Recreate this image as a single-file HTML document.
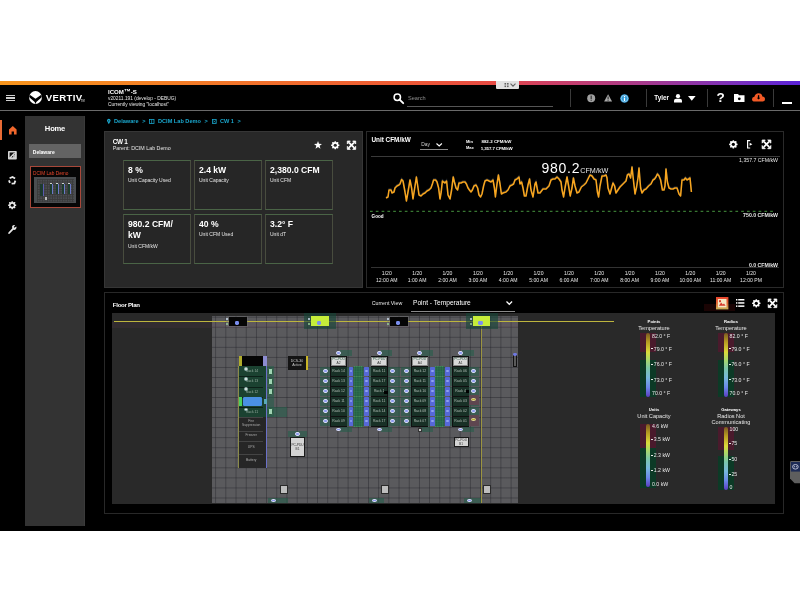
<!DOCTYPE html>
<html><head><meta charset="utf-8"><title>ICOM-S</title>
<style>
*{box-sizing:border-box}
html,body{margin:0;padding:0}
body{width:800px;height:600px;background:#fff;position:relative;overflow:hidden;font-family:"Liberation Sans",Arial,sans-serif;}
.a{position:absolute}
.t{position:absolute;line-height:1;white-space:nowrap}
svg{position:absolute;overflow:visible}
</style></head><body>
<div class="a" style="left:0px;top:81px;width:800px;height:450px;background:#000"></div><div class="a" style="left:0px;top:81px;width:800px;height:4px;background:linear-gradient(90deg,#f7951d 0%,#f37a28 25%,#ee5a34 50%,#e64a44 62%,#cf4064 68%,#a83a8a 80%,#7a30bc 92%,#5a22d8 100%)"></div><div class="a" style="left:496px;top:80.6px;width:23px;height:8.3px;background:#e2e2e2;border-radius:0 0 1px 1px"></div><svg style="left:496px;top:80.6px" width="23" height="8.3" viewBox="0 0 23 8.3"><g fill="#666"><rect x="8.5" y="2" width="1.6" height="1.6"/><rect x="11" y="2" width="1.6" height="1.6"/><rect x="8.5" y="4.5" width="1.6" height="1.6"/><rect x="11" y="4.5" width="1.6" height="1.6"/></g><path d="M14.5 2.6 L17 5.2 L19.5 2.6" fill="none" stroke="#666" stroke-width="1.1"/></svg><div class="a" style="left:6px;top:95px;width:9px;height:1.3px;background:#d0d0d0"></div><div class="a" style="left:6px;top:97.4px;width:9px;height:1.3px;background:#d0d0d0"></div><div class="a" style="left:6px;top:99.8px;width:9px;height:1.3px;background:#d0d0d0"></div><svg style="left:29.1px;top:91.1px" width="13" height="13" viewBox="0 0 13 13"><defs><clipPath id="lc"><circle cx="6.5" cy="6.5" r="6.4"/></clipPath></defs><circle cx="6.5" cy="6.5" r="6.4" fill="#fff"/><path d="M-0.5 3.0 L6.5 7.7 L13.5 3.0 L13.5 5.6 L7.3 10.9 L6.5 13.2 L5.7 10.9 L-0.5 5.6 Z" fill="#000" clip-path="url(#lc)"/></svg><div class="t" style="left:45.8px;top:93px;font-size:9.6px;color:#fff;font-weight:bold;letter-spacing:0.35px">VERTIV</div><div class="t" style="left:80.8px;top:101px;font-size:2.6px;color:#bbb;font-weight:bold;">TM</div><div class="t" style="left:108px;top:89px;font-size:6.1px;color:#fff;font-weight:bold;">ICOM<span style="font-size:7px;line-height:0;position:relative;top:-0.3px;letter-spacing:-0.3px">™</span>-S</div><div class="t" style="left:108px;top:97px;font-size:4.85px;color:#e8e8e8;">v20211.191 (develop - DEBUG)</div><div class="t" style="left:108px;top:103px;font-size:4.85px;color:#e8e8e8;">Currently viewing "localhost"</div><svg style="left:392.5px;top:92.6px" width="11" height="11" viewBox="0 0 11 11"><circle cx="4.3" cy="4.3" r="3.2" fill="none" stroke="#fff" stroke-width="1.5"/><path d="M6.6 6.6 L10.2 10.2" stroke="#fff" stroke-width="1.9" stroke-linecap="round"/></svg><div class="t" style="left:408px;top:96px;font-size:5.6px;color:#8c8c8c;">Search</div><div class="a" style="left:407px;top:105.9px;width:145.5px;height:1.4px;background:#555"></div><div class="a" style="left:570.3px;top:89px;width:0.9px;height:17.6px;background:#3a3a3a"></div><div class="a" style="left:645.5px;top:89px;width:0.9px;height:17.6px;background:#3a3a3a"></div><div class="a" style="left:706.8px;top:89px;width:0.9px;height:17.6px;background:#3a3a3a"></div><div class="a" style="left:773.2px;top:89px;width:0.9px;height:17.6px;background:#3a3a3a"></div><svg style="left:586.8px;top:94px" width="8.4" height="8.4" viewBox="0 0 8.4 8.4"><circle cx="4.2" cy="4.2" r="4" fill="#a0a0a0"/><rect x="3.6" y="1.6" width="1.2" height="3.4" fill="#333"/><rect x="3.6" y="5.7" width="1.2" height="1.1" fill="#333"/></svg><svg style="left:603.6px;top:94px" width="8.2" height="7.6" viewBox="0 0 8.2 7.6"><path d="M4.1 0.2 L8.1 7.4 L0.1 7.4 Z" fill="#a8a8a8"/><rect x="3.6" y="2.5" width="1" height="2.7" fill="#222"/><rect x="3.6" y="5.8" width="1" height="0.9" fill="#222"/></svg><svg style="left:620px;top:93.8px" width="9" height="9" viewBox="0 0 9 9"><circle cx="4.5" cy="4.5" r="4.3" fill="#2e9ad8"/><circle cx="4.5" cy="4.5" r="3.3" fill="none" stroke="#bfe3f7" stroke-width="0.6"/><rect x="3.9" y="3.7" width="1.2" height="3.3" fill="#fff"/><rect x="3.9" y="2" width="1.2" height="1.1" fill="#fff"/></svg><div class="t" style="left:654.3px;top:95px;font-size:6.3px;color:#fff;font-weight:bold;">Tyler</div><svg style="left:673.5px;top:93.6px" width="8" height="8.4" viewBox="0 0 8 8.4"><circle cx="4" cy="2.2" r="2.1" fill="#fff"/><path d="M0 8.4 L0 6.6 Q0 4.7 2.2 4.7 L5.8 4.7 Q8 4.7 8 6.6 L8 8.4 Z" fill="#fff"/></svg><svg style="left:688.4px;top:96.2px" width="7.6" height="4.8" viewBox="0 0 7.6 4.8"><path d="M0 0 L7.6 0 L3.8 4.8 Z" fill="#fff"/></svg><div class="t" style="left:716.6px;top:91px;font-size:13.5px;color:#fff;font-weight:bold;">?</div><svg style="left:733.5px;top:94px" width="10.5" height="8" viewBox="0 0 10.5 8"><path d="M0 0 L4 0 L5 1.3 L10.5 1.3 L10.5 8 L0 8 Z" fill="#fff"/><circle cx="5.3" cy="4.8" r="1.4" fill="#000"/></svg><svg style="left:752px;top:93.4px" width="13" height="8.6" viewBox="0 0 13 8.6"><path d="M2.8 8.6 Q0 8.6 0 6.2 Q0 4 2.4 3.8 Q3.2 0.2 6.6 0.2 Q9.8 0.2 10.4 3.4 Q13 3.6 13 6.1 Q13 8.6 10.4 8.6 Z" fill="#f25a26"/><rect x="5.9" y="2.2" width="1.3" height="3" fill="#000"/><path d="M4.8 4.8 L8.3 4.8 L6.55 6.6 Z" fill="#000"/></svg><div class="a" style="left:781.6px;top:102.2px;width:10.4px;height:1.6px;background:#fff"></div><div class="a" style="left:0px;top:110px;width:800px;height:1.1px;background:#6a6a6a"></div><div class="a" style="left:0px;top:119.5px;width:1.6px;height:20.2px;background:#e96b35"></div><svg style="left:8.5px;top:125.8px" width="7.6" height="8.6" viewBox="0 0 7.6 8.6"><path d="M3.8 0 L7.6 3.4 L7.6 8.6 L5 8.6 L5 5.6 L2.6 5.6 L2.6 8.6 L0 8.6 L0 3.4 Z" fill="#f0672c"/></svg><svg style="left:8.2px;top:150.7px" width="8.8" height="8.6" viewBox="0 0 8.8 8.6"><rect x="0" y="0" width="8.8" height="8.6" rx="0.8" fill="#d6d6d6"/><rect x="1.6" y="1.5" width="5.2" height="4.8" fill="#111"/><path d="M2.2 6.6 L6.6 2.1" stroke="#eee" stroke-width="1.3"/><rect x="5.2" y="3.6" width="1.6" height="4" fill="#d6d6d6"/></svg><svg style="left:8.2px;top:175.8px" width="8.4" height="8.4" viewBox="-4.2 -4.2 8.4 8.4"><g fill="none" stroke="#e8e8e8" stroke-width="1.8"><path d="M-2.6 -1.9 L0.3 -3.2 L2.9 -1.6"/><path d="M3.2 0.4 L2.2 3.1 L-0.6 3.4"/><path d="M-2.2 2.7 L-3.3 0.2"/></g></svg><svg style="left:8.4px;top:200.6px" width="8.4" height="8.4" viewBox="-5 -5 10 10"><g fill="#e8e8e8"><rect x="-0.9" y="-4.85" width="1.8" height="2" rx="0.4" transform="rotate(0)"/><rect x="-0.9" y="-4.85" width="1.8" height="2" rx="0.4" transform="rotate(45)"/><rect x="-0.9" y="-4.85" width="1.8" height="2" rx="0.4" transform="rotate(90)"/><rect x="-0.9" y="-4.85" width="1.8" height="2" rx="0.4" transform="rotate(135)"/><rect x="-0.9" y="-4.85" width="1.8" height="2" rx="0.4" transform="rotate(180)"/><rect x="-0.9" y="-4.85" width="1.8" height="2" rx="0.4" transform="rotate(225)"/><rect x="-0.9" y="-4.85" width="1.8" height="2" rx="0.4" transform="rotate(270)"/><rect x="-0.9" y="-4.85" width="1.8" height="2" rx="0.4" transform="rotate(315)"/><circle r="3.75"/></g><circle r="1.85" fill="#000"/></svg><svg style="left:8.2px;top:224.8px" width="8.6" height="9" viewBox="0 0 8.6 9"><path d="M1.1 8 L5 3.8" stroke="#e8e8e8" stroke-width="1.8" stroke-linecap="round"/><path d="M3.9 1.9 A2.5 2.5 0 0 1 7.1 0.2 L5.7 1.9 L6.5 2.8 L8.3 1.4 A2.5 2.5 0 0 1 5.6 4.9 Z" fill="#e8e8e8"/></svg><div class="a" style="left:25px;top:115.7px;width:60px;height:410.6px;background:#333333;border-right:1px solid #3b3b3b"></div><div class="t" style="left:-45px;width:200px;text-align:center;top:125px;font-size:7.6px;color:#fff;font-weight:bold;letter-spacing:-0.2px">Home</div><div class="a" style="left:29px;top:144px;width:52.2px;height:13.8px;background:#636363"></div><div class="t" style="left:32.8px;top:150px;font-size:5.0px;color:#fff;font-weight:bold;">Delaware</div><div class="a" style="left:29.6px;top:166.2px;width:51.4px;height:41.6px;background:#060606;border:1px solid #a8483a"></div><div class="t" style="left:33px;top:172px;font-size:4.75px;color:#e8472c;">DCIM Lab Demo</div><div class="a" style="left:33.8px;top:177px;width:42px;height:26px;background:#4a4d50"></div><div class="a" style="left:37px;top:178.5px;width:37px;height:23px;background-image:linear-gradient(#3a3a3a 0.5px,transparent 0.5px),linear-gradient(90deg,#3a3a3a 0.5px,transparent 0.5px);background-size:2.5px 2.5px"></div><div class="a" style="left:40px;top:184px;width:3px;height:12px;background:#1e3a30"></div><div class="a" style="left:42.6px;top:184px;width:1px;height:12px;background:#5a5ab0"></div><div class="a" style="left:49.5px;top:184px;width:2.6px;height:10px;background:#1e3d2e"></div><div class="a" style="left:52.1px;top:184px;width:1px;height:10px;background:#6a78c8"></div><div class="a" style="left:49.5px;top:182.5px;width:2.6px;height:1.4px;background:#d0d0d0"></div><div class="a" style="left:55.5px;top:184px;width:2.6px;height:10px;background:#1e3d2e"></div><div class="a" style="left:58.1px;top:184px;width:1px;height:10px;background:#6a78c8"></div><div class="a" style="left:55.5px;top:182.5px;width:2.6px;height:1.4px;background:#d0d0d0"></div><div class="a" style="left:61.5px;top:184px;width:2.6px;height:10px;background:#1e3d2e"></div><div class="a" style="left:64.1px;top:184px;width:1px;height:10px;background:#6a78c8"></div><div class="a" style="left:61.5px;top:182.5px;width:2.6px;height:1.4px;background:#d0d0d0"></div><div class="a" style="left:67.5px;top:184px;width:2.6px;height:10px;background:#1e3d2e"></div><div class="a" style="left:70.1px;top:184px;width:1px;height:10px;background:#6a78c8"></div><div class="a" style="left:67.5px;top:182.5px;width:2.6px;height:1.4px;background:#d0d0d0"></div><div class="a" style="left:45px;top:197px;width:2px;height:2.6px;background:#bbb"></div><svg style="left:107px;top:119.2px" width="3.6" height="5.2" viewBox="0 0 3.6 5.2"><path d="M1.8 5.2 L0.3 2.6 A1.8 1.8 0 1 1 3.3 2.6 Z" fill="#1aa6cc"/><circle cx="1.8" cy="1.8" r="0.6" fill="#000"/></svg><div class="t" style="left:114px;top:119px;font-size:5.6px;color:#1aa6cc;font-weight:bold;">Delaware</div><div class="t" style="left:142.3px;top:119px;font-size:5.6px;color:#1aa6cc;font-weight:bold;">&gt;</div><svg style="left:149px;top:119.4px" width="5.4" height="5" viewBox="0 0 5.4 5"><rect x="0.4" y="0.4" width="4.6" height="4.2" fill="none" stroke="#1aa6cc" stroke-width="0.8"/><rect x="2.4" y="0.4" width="0.7" height="4.2" fill="#1aa6cc"/></svg><div class="t" style="left:158px;top:119px;font-size:5.6px;color:#1aa6cc;font-weight:bold;">DCIM Lab Demo</div><div class="t" style="left:204.6px;top:119px;font-size:5.6px;color:#1aa6cc;font-weight:bold;">&gt;</div><svg style="left:211.5px;top:119.4px" width="4.6" height="5" viewBox="0 0 4.6 5"><rect x="0.4" y="0.4" width="3.8" height="4.2" fill="none" stroke="#1aa6cc" stroke-width="0.8"/><path d="M1.2 1.4 L3.4 3.6 M3.4 1.4 L1.2 3.6" stroke="#1aa6cc" stroke-width="0.6"/></svg><div class="t" style="left:220px;top:119px;font-size:5.6px;color:#1aa6cc;font-weight:bold;">CW 1</div><div class="t" style="left:237.6px;top:119px;font-size:5.6px;color:#1aa6cc;font-weight:bold;">&gt;</div><div class="a" style="left:104px;top:131px;width:258.6px;height:157px;background:#282828;border:1px solid #363636"></div><div class="t" style="left:112.7px;top:139px;font-size:6.4px;color:#fff;font-weight:bold;letter-spacing:-0.3px">CW 1</div><div class="t" style="left:112.7px;top:146px;font-size:5.3px;color:#e6e6e6;">Parent: DCIM Lab Demo</div><svg style="left:314px;top:141.2px" width="8" height="7.8" viewBox="0 0 24 23"><path d="M12 0 L15 8.3 L24 8.8 L17 14.4 L19.4 23 L12 18.1 L4.6 23 L7 14.4 L0 8.8 L9 8.3 Z" fill="#fff"/></svg><svg style="left:330.6px;top:141px" width="8.5" height="8.5" viewBox="-5 -5 10 10"><g fill="#fff"><rect x="-0.9" y="-4.85" width="1.8" height="2" rx="0.4" transform="rotate(0)"/><rect x="-0.9" y="-4.85" width="1.8" height="2" rx="0.4" transform="rotate(45)"/><rect x="-0.9" y="-4.85" width="1.8" height="2" rx="0.4" transform="rotate(90)"/><rect x="-0.9" y="-4.85" width="1.8" height="2" rx="0.4" transform="rotate(135)"/><rect x="-0.9" y="-4.85" width="1.8" height="2" rx="0.4" transform="rotate(180)"/><rect x="-0.9" y="-4.85" width="1.8" height="2" rx="0.4" transform="rotate(225)"/><rect x="-0.9" y="-4.85" width="1.8" height="2" rx="0.4" transform="rotate(270)"/><rect x="-0.9" y="-4.85" width="1.8" height="2" rx="0.4" transform="rotate(315)"/><circle r="3.75"/></g><circle r="1.85" fill="#282828"/></svg><svg style="left:347px;top:141px" width="9" height="8.4" viewBox="0 0 10 10"><path d="M2 2 L8 8 M8 2 L2 8" stroke="#fff" stroke-width="2"/><path d="M0 0 L3.6 0 L0 3.6 Z M10 0 L6.4 0 L10 3.6 Z M0 10 L3.6 10 L0 6.4 Z M10 10 L6.4 10 L10 6.4 Z" fill="#fff" stroke="#fff" stroke-width="0.9" stroke-linejoin="round"/></svg><div class="a" style="left:123px;top:160px;width:67.6px;height:50px;background:#262626;border:1px solid;border-color:#4a6446 #484c3e"></div><div class="t" style="left:128px;top:165px;font-size:8.6px;color:#fff;font-weight:bold;line-height:11px">8 %</div><div class="t" style="left:128px;top:178px;font-size:5.0px;color:#e6e6e6;">Unit Capacity Used</div><div class="a" style="left:194px;top:160px;width:67.6px;height:50px;background:#262626;border:1px solid;border-color:#4a6446 #484c3e"></div><div class="t" style="left:199px;top:165px;font-size:8.6px;color:#fff;font-weight:bold;line-height:11px">2.4 kW</div><div class="t" style="left:199px;top:178px;font-size:5.0px;color:#e6e6e6;">Unit Capacity</div><div class="a" style="left:265px;top:160px;width:67.6px;height:50px;background:#262626;border:1px solid;border-color:#4a6446 #484c3e"></div><div class="t" style="left:270px;top:165px;font-size:8.6px;color:#fff;font-weight:bold;line-height:11px">2,380.0 CFM</div><div class="t" style="left:270px;top:178px;font-size:5.0px;color:#e6e6e6;">Unit CFM</div><div class="a" style="left:123px;top:214px;width:67.6px;height:50px;background:#262626;border:1px solid;border-color:#4a6446 #484c3e"></div><div class="t" style="left:128px;top:219px;font-size:8.6px;color:#fff;font-weight:bold;line-height:11px">980.2 CFM/<br>kW</div><div class="t" style="left:128px;top:244px;font-size:5.0px;color:#e6e6e6;">Unit CFM/kW</div><div class="a" style="left:194px;top:214px;width:67.6px;height:50px;background:#262626;border:1px solid;border-color:#4a6446 #484c3e"></div><div class="t" style="left:199px;top:219px;font-size:8.6px;color:#fff;font-weight:bold;line-height:11px">40 %</div><div class="t" style="left:199px;top:232px;font-size:5.0px;color:#e6e6e6;">Unit CFM Used</div><div class="a" style="left:265px;top:214px;width:67.6px;height:50px;background:#262626;border:1px solid;border-color:#4a6446 #484c3e"></div><div class="t" style="left:270px;top:219px;font-size:8.6px;color:#fff;font-weight:bold;line-height:11px">3.2° F</div><div class="t" style="left:270px;top:232px;font-size:5.0px;color:#e6e6e6;">Unit dT</div><div class="a" style="left:366px;top:131px;width:418px;height:157px;background:#000;border:1.2px solid #2a2a2a"></div><div class="t" style="left:371.4px;top:137px;font-size:6.4px;color:#fff;font-weight:bold;">Unit CFM/kW</div><div class="t" style="left:421.3px;top:143px;font-size:4.9px;color:#d0d0d0;">Day</div><svg style="left:436.2px;top:143px" width="6.4" height="3.6" viewBox="0 0 6.4 3.6"><path d="M0.5 0.5 L3.2 3 L5.9 0.5" fill="none" stroke="#fff" stroke-width="1.1"/></svg><div class="a" style="left:420px;top:148.5px;width:27.5px;height:0.9px;background:#8a8a8a"></div><div class="t" style="left:466px;top:140px;font-size:4.0px;color:#fff;font-weight:bold;">Min</div><div class="t" style="left:466px;top:146px;font-size:4.0px;color:#fff;font-weight:bold;">Max</div><div class="t" style="left:481.4px;top:140px;font-size:4.4px;color:#fff;font-weight:bold;letter-spacing:0.05px">882.2 CFM/kW</div><div class="t" style="left:480.8px;top:147px;font-size:4.4px;color:#fff;font-weight:bold;letter-spacing:-0.1px">1,357.7 CFM/kW</div><svg style="left:728.6px;top:139.7px" width="8.7" height="8.7" viewBox="-5 -5 10 10"><g fill="#fff"><rect x="-0.9" y="-4.85" width="1.8" height="2" rx="0.4" transform="rotate(0)"/><rect x="-0.9" y="-4.85" width="1.8" height="2" rx="0.4" transform="rotate(45)"/><rect x="-0.9" y="-4.85" width="1.8" height="2" rx="0.4" transform="rotate(90)"/><rect x="-0.9" y="-4.85" width="1.8" height="2" rx="0.4" transform="rotate(135)"/><rect x="-0.9" y="-4.85" width="1.8" height="2" rx="0.4" transform="rotate(180)"/><rect x="-0.9" y="-4.85" width="1.8" height="2" rx="0.4" transform="rotate(225)"/><rect x="-0.9" y="-4.85" width="1.8" height="2" rx="0.4" transform="rotate(270)"/><rect x="-0.9" y="-4.85" width="1.8" height="2" rx="0.4" transform="rotate(315)"/><circle r="3.75"/></g><circle r="1.85" fill="#000"/></svg><svg style="left:746.6px;top:139.8px" width="6" height="8.6" viewBox="0 0 6 8.6"><path d="M3.2 0.6 L0.6 0.6 L0.6 8 L3.2 8" fill="none" stroke="#fff" stroke-width="1.2"/><path d="M2.6 2.8 L5.4 4.3 L2.6 5.8 Z" fill="#fff"/></svg><svg style="left:761.7px;top:139.6px" width="9" height="8.7" viewBox="0 0 10 10"><path d="M2 2 L8 8 M8 2 L2 8" stroke="#fff" stroke-width="2"/><path d="M0 0 L3.6 0 L0 3.6 Z M10 0 L6.4 0 L10 3.6 Z M0 10 L3.6 10 L0 6.4 Z M10 10 L6.4 10 L10 6.4 Z" fill="#fff" stroke="#fff" stroke-width="0.9" stroke-linejoin="round"/></svg><div class="a" style="left:370.7px;top:155.5px;width:409px;height:0.9px;background:#3a3a3a"></div><div class="t" style="left:578px;width:200px;text-align:right;top:158px;font-size:5.2px;color:#e6e6e6;">1,357.7 CFM/kW</div><div class="t" style="left:578px;width:200px;text-align:right;top:213px;font-size:5.2px;color:#e6e6e6;font-weight:bold;">750.0 CFM/kW</div><div class="t" style="left:578px;width:200px;text-align:right;top:263px;font-size:5.2px;color:#e6e6e6;font-weight:bold;">0.0 CFM/kW</div><svg style="left:370px;top:210px" width="408" height="3" viewBox="0 0 408 3"><path d="M0 1.3 L406 1.3" stroke="#46953f" stroke-width="1" stroke-dasharray="2.7 3.1"/></svg><div class="t" style="left:371.6px;top:215px;font-size:4.6px;color:#fff;font-weight:bold;">Good</div><div class="a" style="left:370.5px;top:267px;width:408px;height:0.8px;background:#333"></div><div class="t" style="left:286.8px;width:200px;text-align:center;top:271px;font-size:5.1px;color:#e6e6e6;">1/20</div><div class="t" style="left:286.8px;width:200px;text-align:center;top:278px;font-size:5.1px;color:#e6e6e6;">12:00 AM</div><div class="t" style="left:317.15000000000003px;width:200px;text-align:center;top:271px;font-size:5.1px;color:#e6e6e6;">1/20</div><div class="t" style="left:317.15000000000003px;width:200px;text-align:center;top:278px;font-size:5.1px;color:#e6e6e6;">1:00 AM</div><div class="t" style="left:347.5px;width:200px;text-align:center;top:271px;font-size:5.1px;color:#e6e6e6;">1/20</div><div class="t" style="left:347.5px;width:200px;text-align:center;top:278px;font-size:5.1px;color:#e6e6e6;">2:00 AM</div><div class="t" style="left:377.85px;width:200px;text-align:center;top:271px;font-size:5.1px;color:#e6e6e6;">1/20</div><div class="t" style="left:377.85px;width:200px;text-align:center;top:278px;font-size:5.1px;color:#e6e6e6;">3:00 AM</div><div class="t" style="left:408.20000000000005px;width:200px;text-align:center;top:271px;font-size:5.1px;color:#e6e6e6;">1/20</div><div class="t" style="left:408.20000000000005px;width:200px;text-align:center;top:278px;font-size:5.1px;color:#e6e6e6;">4:00 AM</div><div class="t" style="left:438.54999999999995px;width:200px;text-align:center;top:271px;font-size:5.1px;color:#e6e6e6;">1/20</div><div class="t" style="left:438.54999999999995px;width:200px;text-align:center;top:278px;font-size:5.1px;color:#e6e6e6;">5:00 AM</div><div class="t" style="left:468.9000000000001px;width:200px;text-align:center;top:271px;font-size:5.1px;color:#e6e6e6;">1/20</div><div class="t" style="left:468.9000000000001px;width:200px;text-align:center;top:278px;font-size:5.1px;color:#e6e6e6;">6:00 AM</div><div class="t" style="left:499.25px;width:200px;text-align:center;top:271px;font-size:5.1px;color:#e6e6e6;">1/20</div><div class="t" style="left:499.25px;width:200px;text-align:center;top:278px;font-size:5.1px;color:#e6e6e6;">7:00 AM</div><div class="t" style="left:529.6px;width:200px;text-align:center;top:271px;font-size:5.1px;color:#e6e6e6;">1/20</div><div class="t" style="left:529.6px;width:200px;text-align:center;top:278px;font-size:5.1px;color:#e6e6e6;">8:00 AM</div><div class="t" style="left:559.95px;width:200px;text-align:center;top:271px;font-size:5.1px;color:#e6e6e6;">1/20</div><div class="t" style="left:559.95px;width:200px;text-align:center;top:278px;font-size:5.1px;color:#e6e6e6;">9:00 AM</div><div class="t" style="left:590.3px;width:200px;text-align:center;top:271px;font-size:5.1px;color:#e6e6e6;">1/20</div><div class="t" style="left:590.3px;width:200px;text-align:center;top:278px;font-size:5.1px;color:#e6e6e6;">10:00 AM</div><div class="t" style="left:620.6500000000001px;width:200px;text-align:center;top:271px;font-size:5.1px;color:#e6e6e6;">1/20</div><div class="t" style="left:620.6500000000001px;width:200px;text-align:center;top:278px;font-size:5.1px;color:#e6e6e6;">11:00 AM</div><div class="t" style="left:651.0px;width:200px;text-align:center;top:271px;font-size:5.1px;color:#e6e6e6;">1/20</div><div class="t" style="left:651.0px;width:200px;text-align:center;top:278px;font-size:5.1px;color:#e6e6e6;">12:00 PM</div><svg style="left:0;top:0" width="800" height="600" viewBox="0 0 800 600"><path d="M386.0 198.0 L388.0 197.0 L389.0 190.0 L391.0 190.0 L392.0 193.0 L394.0 192.0 L395.0 188.0 L397.0 186.0 L399.0 185.0 L400.0 184.0 L401.6 179.6 L403.0 181.0 L405.0 192.0 L406.4 201.0 L408.0 192.0 L410.0 180.0 L411.6 188.0 L413.0 199.0 L414.4 190.0 L416.4 177.0 L418.0 188.0 L419.0 195.0 L421.0 196.0 L423.0 194.0 L425.0 193.0 L427.0 191.0 L429.0 190.0 L431.0 188.0 L432.4 184.0 L433.6 180.0 L435.6 180.0 L437.0 182.0 L438.6 188.0 L440.0 199.0 L441.2 192.0 L442.4 181.0 L443.6 182.0 L445.0 183.0 L446.6 181.0 L448.0 195.0 L450.0 199.0 L451.6 190.0 L453.2 177.0 L454.4 182.0 L456.0 188.0 L457.6 190.0 L459.0 183.0 L461.0 183.0 L463.0 182.0 L465.0 182.0 L466.4 184.0 L468.0 188.0 L469.4 190.0 L471.0 192.0 L472.4 190.0 L474.0 186.0 L476.0 185.0 L477.6 188.0 L479.0 195.0 L480.6 197.0 L482.0 194.0 L483.6 186.0 L485.0 181.0 L487.0 180.0 L489.0 181.0 L491.0 182.0 L493.0 180.0 L494.4 188.0 L495.4 197.0 L497.0 184.0 L498.4 175.0 L500.0 184.0 L501.4 194.0 L503.0 193.0 L506.0 192.0 L508.0 190.0 L510.0 186.0 L512.0 185.0 L513.6 184.0 L515.0 180.0 L517.0 179.0 L519.0 177.0 L520.0 184.0 L521.6 182.0 L523.0 188.0 L524.4 196.0 L526.0 196.0 L528.0 185.0 L529.6 179.0 L531.0 190.0 L533.0 197.0 L535.0 184.0 L536.0 182.0 L538.0 193.0 L540.0 193.0 L543.0 189.0 L546.0 189.0 L549.0 186.0 L551.0 180.0 L553.0 179.0 L555.0 179.0 L557.0 177.0 L559.0 179.0 L561.0 182.0 L562.0 190.0 L563.6 197.0 L565.0 188.0 L567.0 177.0 L568.6 186.0 L570.2 196.0 L572.0 188.0 L573.4 178.0 L575.0 186.0 L577.0 193.0 L579.0 192.0 L581.4 187.0 L584.0 185.0 L586.0 183.0 L588.0 179.0 L590.0 175.0 L592.0 176.0 L594.0 179.0 L596.0 180.0 L597.4 192.0 L598.6 197.0 L600.0 186.0 L602.0 176.0 L604.0 176.0 L606.0 175.0 L607.0 178.0 L608.0 188.0 L610.0 194.0 L611.4 189.0 L613.0 183.0 L614.6 186.0 L616.0 193.0 L618.0 190.0 L620.0 187.0 L622.0 185.0 L624.0 183.0 L626.0 181.0 L627.4 175.0 L629.0 174.0 L630.6 178.0 L632.0 167.0 L633.4 180.0 L635.0 194.0 L636.6 187.0 L638.0 178.0 L639.0 168.0 L640.6 188.0 L642.0 193.0 L644.0 190.0 L646.0 189.0 L648.6 186.0 L651.0 184.0 L653.0 180.0 L654.6 179.0 L656.0 177.0 L657.4 174.0 L659.0 176.0 L660.6 180.0 L662.4 190.0 L664.0 190.0 L665.0 186.0 L666.0 169.0 L667.4 182.0 L669.0 188.0 L671.0 189.0 L673.0 189.0 L675.0 188.0 L677.0 188.0 L679.0 194.0 L680.6 196.0 L682.0 180.0 L684.0 180.0 L685.4 178.0 L687.0 180.0 L688.6 179.0 L690.0 178.0 L691.4 192.0" fill="none" stroke="#5d6a78" stroke-width="1.2" opacity="0.35" transform="translate(0,-1.2)"/><path d="M386.0 198.0 L388.0 197.0 L389.0 190.0 L391.0 190.0 L392.0 193.0 L394.0 192.0 L395.0 188.0 L397.0 186.0 L399.0 185.0 L400.0 184.0 L401.6 179.6 L403.0 181.0 L405.0 192.0 L406.4 201.0 L408.0 192.0 L410.0 180.0 L411.6 188.0 L413.0 199.0 L414.4 190.0 L416.4 177.0 L418.0 188.0 L419.0 195.0 L421.0 196.0 L423.0 194.0 L425.0 193.0 L427.0 191.0 L429.0 190.0 L431.0 188.0 L432.4 184.0 L433.6 180.0 L435.6 180.0 L437.0 182.0 L438.6 188.0 L440.0 199.0 L441.2 192.0 L442.4 181.0 L443.6 182.0 L445.0 183.0 L446.6 181.0 L448.0 195.0 L450.0 199.0 L451.6 190.0 L453.2 177.0 L454.4 182.0 L456.0 188.0 L457.6 190.0 L459.0 183.0 L461.0 183.0 L463.0 182.0 L465.0 182.0 L466.4 184.0 L468.0 188.0 L469.4 190.0 L471.0 192.0 L472.4 190.0 L474.0 186.0 L476.0 185.0 L477.6 188.0 L479.0 195.0 L480.6 197.0 L482.0 194.0 L483.6 186.0 L485.0 181.0 L487.0 180.0 L489.0 181.0 L491.0 182.0 L493.0 180.0 L494.4 188.0 L495.4 197.0 L497.0 184.0 L498.4 175.0 L500.0 184.0 L501.4 194.0 L503.0 193.0 L506.0 192.0 L508.0 190.0 L510.0 186.0 L512.0 185.0 L513.6 184.0 L515.0 180.0 L517.0 179.0 L519.0 177.0 L520.0 184.0 L521.6 182.0 L523.0 188.0 L524.4 196.0 L526.0 196.0 L528.0 185.0 L529.6 179.0 L531.0 190.0 L533.0 197.0 L535.0 184.0 L536.0 182.0 L538.0 193.0 L540.0 193.0 L543.0 189.0 L546.0 189.0 L549.0 186.0 L551.0 180.0 L553.0 179.0 L555.0 179.0 L557.0 177.0 L559.0 179.0 L561.0 182.0 L562.0 190.0 L563.6 197.0 L565.0 188.0 L567.0 177.0 L568.6 186.0 L570.2 196.0 L572.0 188.0 L573.4 178.0 L575.0 186.0 L577.0 193.0 L579.0 192.0 L581.4 187.0 L584.0 185.0 L586.0 183.0 L588.0 179.0 L590.0 175.0 L592.0 176.0 L594.0 179.0 L596.0 180.0 L597.4 192.0 L598.6 197.0 L600.0 186.0 L602.0 176.0 L604.0 176.0 L606.0 175.0 L607.0 178.0 L608.0 188.0 L610.0 194.0 L611.4 189.0 L613.0 183.0 L614.6 186.0 L616.0 193.0 L618.0 190.0 L620.0 187.0 L622.0 185.0 L624.0 183.0 L626.0 181.0 L627.4 175.0 L629.0 174.0 L630.6 178.0 L632.0 167.0 L633.4 180.0 L635.0 194.0 L636.6 187.0 L638.0 178.0 L639.0 168.0 L640.6 188.0 L642.0 193.0 L644.0 190.0 L646.0 189.0 L648.6 186.0 L651.0 184.0 L653.0 180.0 L654.6 179.0 L656.0 177.0 L657.4 174.0 L659.0 176.0 L660.6 180.0 L662.4 190.0 L664.0 190.0 L665.0 186.0 L666.0 169.0 L667.4 182.0 L669.0 188.0 L671.0 189.0 L673.0 189.0 L675.0 188.0 L677.0 188.0 L679.0 194.0 L680.6 196.0 L682.0 180.0 L684.0 180.0 L685.4 178.0 L687.0 180.0 L688.6 179.0 L690.0 178.0 L691.4 192.0" fill="none" stroke="#f7a51f" stroke-width="1.55" stroke-linejoin="round"/></svg><div class="t" style="left:541.6px;top:161px;font-size:14px;color:#fff;letter-spacing:0.7px">980.2</div><div class="t" style="left:580.2px;top:167px;font-size:7.2px;color:#e8e8e8;letter-spacing:0.05px">CFM/kW</div><div class="a" style="left:104px;top:292px;width:680px;height:222px;background:#000;border:1.2px solid #282828"></div><div class="t" style="left:112.8px;top:302px;font-size:6.1px;color:#fff;font-weight:bold;letter-spacing:-0.28px">Floor Plan</div><div class="t" style="left:371.7px;top:301px;font-size:5.3px;color:#e8e8e8;">Current View</div><div class="t" style="left:413px;top:300px;font-size:6.6px;color:#fff;">Point - Temperature</div><svg style="left:505.6px;top:301px" width="6.6" height="4" viewBox="0 0 6.6 4"><path d="M0.5 0.5 L3.3 3.3 L6.1 0.5" fill="none" stroke="#fff" stroke-width="1.2"/></svg><div class="a" style="left:411px;top:310.8px;width:104px;height:0.9px;background:#8a8a8a"></div><div class="a" style="left:703.8px;top:304.4px;width:31.2px;height:6.9px;background:#1a0404"></div><svg style="left:716.3px;top:296.7px" width="12.4" height="12.4" viewBox="0 0 12.4 12.4"><defs><linearGradient id="ig" x1="0" y1="0" x2="0" y2="1"><stop offset="0" stop-color="#e8442e"/><stop offset="0.55" stop-color="#e06a34"/><stop offset="1" stop-color="#c8b458"/></linearGradient></defs><rect x="0" y="0" width="12.4" height="12.4" fill="url(#ig)"/><rect x="1.9" y="2" width="8.6" height="8.4" fill="#f6e8c4"/><rect x="3" y="3.2" width="2" height="2" fill="#d83a2c"/><path d="M2.8 8.8 L5.2 5.6 L6.8 7.4 L8 6.4 L9.6 8.8 Z" fill="#d83a2c"/></svg><svg style="left:736px;top:299px" width="8.4" height="8" viewBox="0 0 8.4 8"><g fill="#fff"><rect x="0" y="0" width="1.4" height="1.5"/><rect x="2.2" y="0" width="6.2" height="1.5"/><rect x="0" y="3.2" width="1.4" height="1.5"/><rect x="2.2" y="3.2" width="6.2" height="1.5"/><rect x="0" y="6.4" width="1.4" height="1.5"/><rect x="2.2" y="6.4" width="6.2" height="1.5"/></g></svg><svg style="left:751.8px;top:298.8px" width="8.6" height="8.6" viewBox="-5 -5 10 10"><g fill="#fff"><rect x="-0.9" y="-4.85" width="1.8" height="2" rx="0.4" transform="rotate(0)"/><rect x="-0.9" y="-4.85" width="1.8" height="2" rx="0.4" transform="rotate(45)"/><rect x="-0.9" y="-4.85" width="1.8" height="2" rx="0.4" transform="rotate(90)"/><rect x="-0.9" y="-4.85" width="1.8" height="2" rx="0.4" transform="rotate(135)"/><rect x="-0.9" y="-4.85" width="1.8" height="2" rx="0.4" transform="rotate(180)"/><rect x="-0.9" y="-4.85" width="1.8" height="2" rx="0.4" transform="rotate(225)"/><rect x="-0.9" y="-4.85" width="1.8" height="2" rx="0.4" transform="rotate(270)"/><rect x="-0.9" y="-4.85" width="1.8" height="2" rx="0.4" transform="rotate(315)"/><circle r="3.75"/></g><circle r="1.85" fill="#000"/></svg><svg style="left:768px;top:298.8px" width="9" height="8.6" viewBox="0 0 10 10"><path d="M2 2 L8 8 M8 2 L2 8" stroke="#fff" stroke-width="2"/><path d="M0 0 L3.6 0 L0 3.6 Z M10 0 L6.4 0 L10 3.6 Z M0 10 L3.6 10 L0 6.4 Z M10 10 L6.4 10 L10 6.4 Z" fill="#fff" stroke="#fff" stroke-width="0.9" stroke-linejoin="round"/></svg><div class="a" style="left:112px;top:313px;width:663px;height:191.4px;background:#292929"></div><div class="a" style="left:212px;top:316px;width:305.5px;height:187px;background-color:#5a5a5d;background-image:linear-gradient(90deg,rgba(30,30,36,0.42) 1px,transparent 1px),linear-gradient(rgba(30,30,36,0.42) 1px,transparent 1px);background-size:10.2px 10.05px;background-position:3.2px 0.7px"></div><div class="a" style="left:112px;top:322px;width:405.5px;height:5.6px;background:rgba(130,70,110,0.11)"></div><div class="a" style="left:113.6px;top:320.6px;width:500.4px;height:1.3px;background:#bdb53e"></div><div class="a" style="left:481.1px;top:316px;width:1.3px;height:187px;background:#9c9440"></div><div class="a" style="left:226px;top:315.6px;width:22px;height:11.6px;background:rgba(120,120,120,0.35)"></div><div class="a" style="left:229px;top:316.8px;width:17.5px;height:9.2px;background:#050505"></div><div class="a" style="left:226px;top:318px;width:2.4px;height:2.4px;background:#cde;border-radius:50%"></div><div class="a" style="left:226px;top:322.5px;width:2.4px;height:2.4px;background:#9c9;border-radius:50%"></div><div class="a" style="left:234.8px;top:321.4px;width:4.6px;height:3.6px;background:#7b8ff0;border-radius:1.4px"></div><div class="a" style="left:304px;top:313px;width:32px;height:16px;background:rgba(20,70,55,0.6)"></div><div class="a" style="left:311px;top:316px;width:17.5px;height:10px;background:#c6ee3a"></div><div class="a" style="left:308px;top:318px;width:2.4px;height:2.4px;background:#cde;border-radius:50%"></div><div class="a" style="left:308px;top:322.5px;width:2.4px;height:2.4px;background:#9c9;border-radius:50%"></div><div class="a" style="left:316.8px;top:321.4px;width:4.6px;height:3.6px;background:#7b8ff0;border-radius:1.4px"></div><div class="a" style="left:387px;top:315.6px;width:22px;height:11.6px;background:rgba(120,120,120,0.35)"></div><div class="a" style="left:390px;top:316.8px;width:17.5px;height:9.2px;background:#050505"></div><div class="a" style="left:387px;top:318px;width:2.4px;height:2.4px;background:#cde;border-radius:50%"></div><div class="a" style="left:387px;top:322.5px;width:2.4px;height:2.4px;background:#9c9;border-radius:50%"></div><div class="a" style="left:395.8px;top:321.4px;width:4.6px;height:3.6px;background:#7b8ff0;border-radius:1.4px"></div><div class="a" style="left:465.5px;top:313px;width:32px;height:16px;background:rgba(20,70,55,0.6)"></div><div class="a" style="left:472.5px;top:316px;width:17.5px;height:10px;background:#c6ee3a"></div><div class="a" style="left:469.5px;top:318px;width:2.4px;height:2.4px;background:#cde;border-radius:50%"></div><div class="a" style="left:469.5px;top:322.5px;width:2.4px;height:2.4px;background:#9c9;border-radius:50%"></div><div class="a" style="left:478.3px;top:321.4px;width:4.6px;height:3.6px;background:#7b8ff0;border-radius:1.4px"></div><div class="a" style="left:265px;top:366px;width:9px;height:51px;background:rgba(35,95,72,0.55)"></div><div class="a" style="left:265px;top:406.5px;width:22px;height:10px;background:rgba(35,95,72,0.55)"></div><div class="a" style="left:239px;top:356px;width:28px;height:112px;background:#262626"></div><div class="a" style="left:239px;top:356px;width:3.2px;height:10.4px;background:#b0ac2c"></div><div class="a" style="left:242.2px;top:356px;width:21px;height:10.4px;background:#050505"></div><div class="a" style="left:263.4px;top:356px;width:3.6px;height:10.4px;background:#8c8cd0"></div><div class="a" style="left:265.6px;top:366px;width:1.4px;height:102px;background:#6a70c8"></div><div class="a" style="left:238.4px;top:366px;width:0.8px;height:102px;background:#8a8a4a"></div><div class="a" style="left:239px;top:366.4px;width:26.6px;height:50.6px;background:#1b4231"></div><div class="a" style="left:239px;top:376.4px;width:24.4px;height:0.4px;background:#0c2018"></div><div class="t" style="left:152px;width:200px;text-align:center;top:370px;font-size:3.4px;color:#9ab0a4;">Rack 14</div><div class="a" style="left:243.6px;top:367.2px;width:4.6px;height:3.4px;background:#d8e4de;border:0.5px solid #8aa;border-radius:1.7px"></div><div class="a" style="left:268.2px;top:367.79999999999995px;width:4.4px;height:7.2px;background:#a0d4b4;border:0.6px solid #2a5a40;border-radius:1.2px"></div><div class="a" style="left:239px;top:386.5px;width:24.4px;height:0.4px;background:#0c2018"></div><div class="t" style="left:152px;width:200px;text-align:center;top:380px;font-size:3.4px;color:#9ab0a4;">Rack 13</div><div class="a" style="left:243.6px;top:377.3px;width:4.6px;height:3.4px;background:#d8e4de;border:0.5px solid #8aa;border-radius:1.7px"></div><div class="a" style="left:268.2px;top:377.9px;width:4.4px;height:7.2px;background:#a0d4b4;border:0.6px solid #2a5a40;border-radius:1.2px"></div><div class="a" style="left:239px;top:396.59999999999997px;width:24.4px;height:0.4px;background:#0c2018"></div><div class="t" style="left:152px;width:200px;text-align:center;top:391px;font-size:3.4px;color:#9ab0a4;">Rack 12</div><div class="a" style="left:243.6px;top:387.4px;width:4.6px;height:3.4px;background:#d8e4de;border:0.5px solid #8aa;border-radius:1.7px"></div><div class="a" style="left:268.2px;top:387.99999999999994px;width:4.4px;height:7.2px;background:#a0d4b4;border:0.6px solid #2a5a40;border-radius:1.2px"></div><div class="a" style="left:239px;top:406.7px;width:24.4px;height:0.4px;background:#0c2018"></div><div class="a" style="left:239px;top:416.79999999999995px;width:24.4px;height:0.4px;background:#0c2018"></div><div class="t" style="left:152px;width:200px;text-align:center;top:411px;font-size:3.4px;color:#9ab0a4;">Rack 11</div><div class="a" style="left:243.6px;top:407.59999999999997px;width:4.6px;height:3.4px;background:#d8e4de;border:0.5px solid #8aa;border-radius:1.7px"></div><div class="a" style="left:268.2px;top:408.19999999999993px;width:4.4px;height:7.2px;background:#a0d4b4;border:0.6px solid #2a5a40;border-radius:1.2px"></div><div class="a" style="left:239px;top:396.8px;width:3px;height:9px;background:#4cd05c"></div><div class="a" style="left:243.4px;top:397.4px;width:18.2px;height:8.4px;background:#4a90e4;border-radius:1.2px"></div><div class="a" style="left:263.6px;top:398.8px;width:3.6px;height:5px;background:#5aa8b8"></div><div class="a" style="left:239px;top:417px;width:24.4px;height:14px;background:#262626;border-top:0.5px solid #444"></div><div class="t" style="left:239px;width:24.4px;text-align:center;top:420.2px;font-size:3.3px;line-height:3.8px;color:#aaa">Fire<br>Suppression</div><div class="a" style="left:239px;top:431px;width:24.4px;height:10px;background:#262626;border-top:0.5px solid #444"></div><div class="t" style="left:239px;width:24.4px;text-align:center;top:434.1px;font-size:3.3px;line-height:3.8px;color:#aaa">Freezer</div><div class="a" style="left:239px;top:441px;width:24.4px;height:13px;background:#262626;border-top:0.5px solid #444"></div><div class="t" style="left:239px;width:24.4px;text-align:center;top:445.6px;font-size:3.3px;line-height:3.8px;color:#aaa">UPS</div><div class="a" style="left:239px;top:454px;width:24.4px;height:14px;background:#262626;border-top:0.5px solid #444"></div><div class="t" style="left:239px;width:24.4px;text-align:center;top:459.1px;font-size:3.3px;line-height:3.8px;color:#aaa">Battery</div><div class="a" style="left:288px;top:356.4px;width:20px;height:13.2px;background:#141414"></div><div class="a" style="left:306px;top:356.4px;width:2px;height:13.2px;background:#c8b428"></div><div class="t" style="left:288px;width:18px;text-align:center;top:359px;font-size:3.5px;line-height:4.2px;color:#ccc">DCS-30<br>Active</div><div class="a" style="left:288px;top:431px;width:19px;height:6px;background:rgba(35,95,72,0.55)"></div><div class="a" style="left:295.0px;top:432.1px;width:5px;height:3.8px;background:#8e9cf0;border:0.6px solid #d8dcf4;border-radius:1.9px"></div><div class="a" style="left:290px;top:437px;width:15px;height:20px;background:#d4d4d4;border:1px solid #1a1a1a"></div><div class="t" style="left:290px;width:15px;text-align:center;top:443px;font-size:3.2px;line-height:4px;color:#333">PC-PDU<br>B1</div><div class="a" style="left:353.8px;top:366px;width:9.6px;height:60.5px;background-color:#2a6442;background-image:linear-gradient(90deg,rgba(90,170,110,0.45) 0.6px,transparent 0.6px),linear-gradient(rgba(90,170,110,0.3) 0.6px,transparent 0.6px);background-size:2.4px 2.5px"></div><div class="a" style="left:434.6px;top:366px;width:9.6px;height:60.5px;background-color:#2a6442;background-image:linear-gradient(90deg,rgba(90,170,110,0.45) 0.6px,transparent 0.6px),linear-gradient(rgba(90,170,110,0.3) 0.6px,transparent 0.6px);background-size:2.4px 2.5px"></div><div class="a" style="left:319.6px;top:367.09999999999997px;width:80.6px;height:8.6px;background:rgba(35,95,72,0.55)"></div><div class="a" style="left:401.2px;top:367.09999999999997px;width:78px;height:8.6px;background:rgba(35,95,72,0.55)"></div><div class="a" style="left:319.6px;top:377.09999999999997px;width:80.6px;height:8.6px;background:rgba(35,95,72,0.55)"></div><div class="a" style="left:401.2px;top:377.09999999999997px;width:78px;height:8.6px;background:rgba(35,95,72,0.55)"></div><div class="a" style="left:319.6px;top:387.09999999999997px;width:80.6px;height:8.6px;background:rgba(35,95,72,0.55)"></div><div class="a" style="left:401.2px;top:387.09999999999997px;width:78px;height:8.6px;background:rgba(35,95,72,0.55)"></div><div class="a" style="left:319.6px;top:397.09999999999997px;width:80.6px;height:8.6px;background:rgba(35,95,72,0.55)"></div><div class="a" style="left:401.2px;top:397.09999999999997px;width:78px;height:8.6px;background:rgba(35,95,72,0.55)"></div><div class="a" style="left:319.6px;top:407.09999999999997px;width:80.6px;height:8.6px;background:rgba(35,95,72,0.55)"></div><div class="a" style="left:401.2px;top:407.09999999999997px;width:78px;height:8.6px;background:rgba(35,95,72,0.55)"></div><div class="a" style="left:319.6px;top:417.09999999999997px;width:80.6px;height:8.6px;background:rgba(35,95,72,0.55)"></div><div class="a" style="left:401.2px;top:417.09999999999997px;width:78px;height:8.6px;background:rgba(35,95,72,0.55)"></div><div class="a" style="left:340.1px;top:349.6px;width:11.6px;height:6.4px;background:rgba(35,95,72,0.55)"></div><div class="a" style="left:340.1px;top:426.6px;width:11.6px;height:5.6px;background:rgba(35,95,72,0.55)"></div><div class="a" style="left:330px;top:356px;width:17.2px;height:70.5px;background:#101010"></div><div class="a" style="left:330.8px;top:356.6px;width:15.6px;height:9.6px;background:#d8d8d8;border:0.5px solid #888"></div><div class="t" style="left:330px;width:17.2px;text-align:center;top:357.2px;font-size:3.3px;line-height:4px;color:#2a5a40">PC-PDU<br><span style="color:#333">A2</span></div><div class="a" style="left:330.6px;top:366.79999999999995px;width:16.0px;height:9.2px;background:#183026"></div><div class="t" style="left:238.60000000000002px;width:200px;text-align:center;top:370px;font-size:3.4px;color:#b4c0b8;">Rack 14</div><div class="a" style="left:348.59999999999997px;top:367.0px;width:4.8px;height:8.8px;background:#5668d8;border-radius:0.6px"></div><div class="a" style="left:349.59999999999997px;top:369.59999999999997px;width:2.8px;height:2.6px;background:#8ea0f0;border-radius:1px"></div><div class="a" style="left:323.0px;top:369.0px;width:5px;height:3.8px;background:#8e9cf0;border:0.6px solid #d8dcf4;border-radius:1.9px"></div><div class="a" style="left:330.6px;top:376.79999999999995px;width:16.0px;height:9.2px;background:#183026"></div><div class="t" style="left:238.60000000000002px;width:200px;text-align:center;top:380px;font-size:3.4px;color:#b4c0b8;">Rack 13</div><div class="a" style="left:348.59999999999997px;top:377.0px;width:4.8px;height:8.8px;background:#5668d8;border-radius:0.6px"></div><div class="a" style="left:349.59999999999997px;top:379.59999999999997px;width:2.8px;height:2.6px;background:#8ea0f0;border-radius:1px"></div><div class="a" style="left:323.0px;top:379.0px;width:5px;height:3.8px;background:#8e9cf0;border:0.6px solid #d8dcf4;border-radius:1.9px"></div><div class="a" style="left:330.6px;top:386.79999999999995px;width:16.0px;height:9.2px;background:#183026"></div><div class="t" style="left:238.60000000000002px;width:200px;text-align:center;top:390px;font-size:3.4px;color:#b4c0b8;">Rack 12</div><div class="a" style="left:348.59999999999997px;top:387.0px;width:4.8px;height:8.8px;background:#5668d8;border-radius:0.6px"></div><div class="a" style="left:349.59999999999997px;top:389.59999999999997px;width:2.8px;height:2.6px;background:#8ea0f0;border-radius:1px"></div><div class="a" style="left:323.0px;top:389.0px;width:5px;height:3.8px;background:#8e9cf0;border:0.6px solid #d8dcf4;border-radius:1.9px"></div><div class="a" style="left:330.6px;top:396.79999999999995px;width:16.0px;height:9.2px;background:#183026"></div><div class="t" style="left:238.60000000000002px;width:200px;text-align:center;top:400px;font-size:3.4px;color:#b4c0b8;">Rack 11</div><div class="a" style="left:348.59999999999997px;top:397.0px;width:4.8px;height:8.8px;background:#5668d8;border-radius:0.6px"></div><div class="a" style="left:349.59999999999997px;top:399.59999999999997px;width:2.8px;height:2.6px;background:#8ea0f0;border-radius:1px"></div><div class="a" style="left:323.0px;top:399.0px;width:5px;height:3.8px;background:#8e9cf0;border:0.6px solid #d8dcf4;border-radius:1.9px"></div><div class="a" style="left:330.6px;top:406.79999999999995px;width:16.0px;height:9.2px;background:#183026"></div><div class="t" style="left:238.60000000000002px;width:200px;text-align:center;top:410px;font-size:3.4px;color:#b4c0b8;">Rack 10</div><div class="a" style="left:348.59999999999997px;top:407.0px;width:4.8px;height:8.8px;background:#5668d8;border-radius:0.6px"></div><div class="a" style="left:349.59999999999997px;top:409.59999999999997px;width:2.8px;height:2.6px;background:#8ea0f0;border-radius:1px"></div><div class="a" style="left:323.0px;top:409.0px;width:5px;height:3.8px;background:#8e9cf0;border:0.6px solid #d8dcf4;border-radius:1.9px"></div><div class="a" style="left:330.6px;top:416.79999999999995px;width:16.0px;height:9.2px;background:#183026"></div><div class="t" style="left:238.60000000000002px;width:200px;text-align:center;top:420px;font-size:3.4px;color:#b4c0b8;">Rack 09</div><div class="a" style="left:348.59999999999997px;top:417.0px;width:4.8px;height:8.8px;background:#5668d8;border-radius:0.6px"></div><div class="a" style="left:349.59999999999997px;top:419.59999999999997px;width:2.8px;height:2.6px;background:#8ea0f0;border-radius:1px"></div><div class="a" style="left:323.0px;top:419.0px;width:5px;height:3.8px;background:#8e9cf0;border:0.6px solid #d8dcf4;border-radius:1.9px"></div><div class="a" style="left:336.1px;top:351.1px;width:5px;height:3.8px;background:#8e9cf0;border:0.6px solid #d8dcf4;border-radius:1.9px"></div><div class="a" style="left:336.1px;top:427.6px;width:5px;height:3.8px;background:#8e9cf0;border:0.6px solid #d8dcf4;border-radius:1.9px"></div><div class="a" style="left:380.70000000000005px;top:349.6px;width:11.6px;height:6.4px;background:rgba(35,95,72,0.55)"></div><div class="a" style="left:380.70000000000005px;top:426.6px;width:11.6px;height:5.6px;background:rgba(35,95,72,0.55)"></div><div class="a" style="left:370.6px;top:356px;width:17.2px;height:70.5px;background:#101010"></div><div class="a" style="left:371.40000000000003px;top:356.6px;width:15.6px;height:9.6px;background:#d8d8d8;border:0.5px solid #888"></div><div class="t" style="left:370.6px;width:17.2px;text-align:center;top:357.2px;font-size:3.3px;line-height:4px;color:#2a5a40">PC-PDU<br><span style="color:#333">A4</span></div><div class="a" style="left:371.20000000000005px;top:366.79999999999995px;width:16.0px;height:9.2px;background:#183026"></div><div class="t" style="left:279.20000000000005px;width:200px;text-align:center;top:370px;font-size:3.4px;color:#b4c0b8;">Rack 11</div><div class="a" style="left:364.0px;top:367.0px;width:4.8px;height:8.8px;background:#5668d8;border-radius:0.6px"></div><div class="a" style="left:365.0px;top:369.59999999999997px;width:2.8px;height:2.6px;background:#8ea0f0;border-radius:1px"></div><div class="a" style="left:389.8px;top:369.0px;width:5px;height:3.8px;background:#8e9cf0;border:0.6px solid #d8dcf4;border-radius:1.9px"></div><div class="a" style="left:371.20000000000005px;top:376.79999999999995px;width:16.0px;height:9.2px;background:#183026"></div><div class="t" style="left:279.20000000000005px;width:200px;text-align:center;top:380px;font-size:3.4px;color:#b4c0b8;">Rack 17</div><div class="a" style="left:364.0px;top:377.0px;width:4.8px;height:8.8px;background:#5668d8;border-radius:0.6px"></div><div class="a" style="left:365.0px;top:379.59999999999997px;width:2.8px;height:2.6px;background:#8ea0f0;border-radius:1px"></div><div class="a" style="left:389.8px;top:379.0px;width:5px;height:3.8px;background:#8e9cf0;border:0.6px solid #d8dcf4;border-radius:1.9px"></div><div class="a" style="left:371.20000000000005px;top:386.79999999999995px;width:16.0px;height:9.2px;background:#183026"></div><div class="t" style="left:279.20000000000005px;width:200px;text-align:center;top:390px;font-size:3.4px;color:#b4c0b8;">Rack 1</div><div class="a" style="left:364.0px;top:387.0px;width:4.8px;height:8.8px;background:#5668d8;border-radius:0.6px"></div><div class="a" style="left:365.0px;top:389.59999999999997px;width:2.8px;height:2.6px;background:#8ea0f0;border-radius:1px"></div><div class="a" style="left:389.8px;top:389.0px;width:5px;height:3.8px;background:#8e9cf0;border:0.6px solid #d8dcf4;border-radius:1.9px"></div><div class="a" style="left:371.20000000000005px;top:396.79999999999995px;width:16.0px;height:9.2px;background:#183026"></div><div class="t" style="left:279.20000000000005px;width:200px;text-align:center;top:400px;font-size:3.4px;color:#b4c0b8;">Rack 11</div><div class="a" style="left:364.0px;top:397.0px;width:4.8px;height:8.8px;background:#5668d8;border-radius:0.6px"></div><div class="a" style="left:365.0px;top:399.59999999999997px;width:2.8px;height:2.6px;background:#8ea0f0;border-radius:1px"></div><div class="a" style="left:389.8px;top:399.0px;width:5px;height:3.8px;background:#8e9cf0;border:0.6px solid #d8dcf4;border-radius:1.9px"></div><div class="a" style="left:371.20000000000005px;top:406.79999999999995px;width:16.0px;height:9.2px;background:#183026"></div><div class="t" style="left:279.20000000000005px;width:200px;text-align:center;top:410px;font-size:3.4px;color:#b4c0b8;">Rack 14</div><div class="a" style="left:364.0px;top:407.0px;width:4.8px;height:8.8px;background:#5668d8;border-radius:0.6px"></div><div class="a" style="left:365.0px;top:409.59999999999997px;width:2.8px;height:2.6px;background:#8ea0f0;border-radius:1px"></div><div class="a" style="left:389.8px;top:409.0px;width:5px;height:3.8px;background:#8e9cf0;border:0.6px solid #d8dcf4;border-radius:1.9px"></div><div class="a" style="left:371.20000000000005px;top:416.79999999999995px;width:16.0px;height:9.2px;background:#183026"></div><div class="t" style="left:279.20000000000005px;width:200px;text-align:center;top:420px;font-size:3.4px;color:#b4c0b8;">Rack 17</div><div class="a" style="left:364.0px;top:417.0px;width:4.8px;height:8.8px;background:#5668d8;border-radius:0.6px"></div><div class="a" style="left:365.0px;top:419.59999999999997px;width:2.8px;height:2.6px;background:#8ea0f0;border-radius:1px"></div><div class="a" style="left:389.8px;top:419.0px;width:5px;height:3.8px;background:#8e9cf0;border:0.6px solid #d8dcf4;border-radius:1.9px"></div><div class="a" style="left:376.70000000000005px;top:351.1px;width:5px;height:3.8px;background:#8e9cf0;border:0.6px solid #d8dcf4;border-radius:1.9px"></div><div class="a" style="left:376.70000000000005px;top:427.6px;width:5px;height:3.8px;background:#8e9cf0;border:0.6px solid #d8dcf4;border-radius:1.9px"></div><div class="a" style="left:421.40000000000003px;top:349.6px;width:11.6px;height:6.4px;background:rgba(35,95,72,0.55)"></div><div class="a" style="left:421.40000000000003px;top:426.6px;width:11.6px;height:5.6px;background:rgba(35,95,72,0.55)"></div><div class="a" style="left:411.3px;top:356px;width:17.2px;height:70.5px;background:#101010"></div><div class="a" style="left:412.1px;top:356.6px;width:15.6px;height:9.6px;background:#d8d8d8;border:0.5px solid #888"></div><div class="t" style="left:411.3px;width:17.2px;text-align:center;top:357.2px;font-size:3.3px;line-height:4px;color:#2a5a40">PC-PDU<br><span style="color:#333">A4</span></div><div class="a" style="left:411.90000000000003px;top:366.79999999999995px;width:16.0px;height:9.2px;background:#183026"></div><div class="t" style="left:319.90000000000003px;width:200px;text-align:center;top:370px;font-size:3.4px;color:#b4c0b8;">Rack 12</div><div class="a" style="left:429.9px;top:367.0px;width:4.8px;height:8.8px;background:#5668d8;border-radius:0.6px"></div><div class="a" style="left:430.9px;top:369.59999999999997px;width:2.8px;height:2.6px;background:#8ea0f0;border-radius:1px"></div><div class="a" style="left:404.3px;top:369.0px;width:5px;height:3.8px;background:#8e9cf0;border:0.6px solid #d8dcf4;border-radius:1.9px"></div><div class="a" style="left:411.90000000000003px;top:376.79999999999995px;width:16.0px;height:9.2px;background:#183026"></div><div class="t" style="left:319.90000000000003px;width:200px;text-align:center;top:380px;font-size:3.4px;color:#b4c0b8;">Rack 11</div><div class="a" style="left:429.9px;top:377.0px;width:4.8px;height:8.8px;background:#5668d8;border-radius:0.6px"></div><div class="a" style="left:430.9px;top:379.59999999999997px;width:2.8px;height:2.6px;background:#8ea0f0;border-radius:1px"></div><div class="a" style="left:404.3px;top:379.0px;width:5px;height:3.8px;background:#8e9cf0;border:0.6px solid #d8dcf4;border-radius:1.9px"></div><div class="a" style="left:411.90000000000003px;top:386.79999999999995px;width:16.0px;height:9.2px;background:#183026"></div><div class="t" style="left:319.90000000000003px;width:200px;text-align:center;top:390px;font-size:3.4px;color:#b4c0b8;">Rack 10</div><div class="a" style="left:429.9px;top:387.0px;width:4.8px;height:8.8px;background:#5668d8;border-radius:0.6px"></div><div class="a" style="left:430.9px;top:389.59999999999997px;width:2.8px;height:2.6px;background:#8ea0f0;border-radius:1px"></div><div class="a" style="left:404.3px;top:389.0px;width:5px;height:3.8px;background:#8e9cf0;border:0.6px solid #d8dcf4;border-radius:1.9px"></div><div class="a" style="left:411.90000000000003px;top:396.79999999999995px;width:16.0px;height:9.2px;background:#183026"></div><div class="t" style="left:319.90000000000003px;width:200px;text-align:center;top:400px;font-size:3.4px;color:#b4c0b8;">Rack 09</div><div class="a" style="left:429.9px;top:397.0px;width:4.8px;height:8.8px;background:#5668d8;border-radius:0.6px"></div><div class="a" style="left:430.9px;top:399.59999999999997px;width:2.8px;height:2.6px;background:#8ea0f0;border-radius:1px"></div><div class="a" style="left:404.3px;top:399.0px;width:5px;height:3.8px;background:#8e9cf0;border:0.6px solid #d8dcf4;border-radius:1.9px"></div><div class="a" style="left:411.90000000000003px;top:406.79999999999995px;width:16.0px;height:9.2px;background:#183026"></div><div class="t" style="left:319.90000000000003px;width:200px;text-align:center;top:410px;font-size:3.4px;color:#b4c0b8;">Rack 08</div><div class="a" style="left:429.9px;top:407.0px;width:4.8px;height:8.8px;background:#5668d8;border-radius:0.6px"></div><div class="a" style="left:430.9px;top:409.59999999999997px;width:2.8px;height:2.6px;background:#8ea0f0;border-radius:1px"></div><div class="a" style="left:404.3px;top:409.0px;width:5px;height:3.8px;background:#8e9cf0;border:0.6px solid #d8dcf4;border-radius:1.9px"></div><div class="a" style="left:411.90000000000003px;top:416.79999999999995px;width:16.0px;height:9.2px;background:#183026"></div><div class="t" style="left:319.90000000000003px;width:200px;text-align:center;top:420px;font-size:3.4px;color:#b4c0b8;">Rack 07</div><div class="a" style="left:429.9px;top:417.0px;width:4.8px;height:8.8px;background:#5668d8;border-radius:0.6px"></div><div class="a" style="left:430.9px;top:419.59999999999997px;width:2.8px;height:2.6px;background:#8ea0f0;border-radius:1px"></div><div class="a" style="left:404.3px;top:419.0px;width:5px;height:3.8px;background:#8e9cf0;border:0.6px solid #d8dcf4;border-radius:1.9px"></div><div class="a" style="left:417.40000000000003px;top:351.1px;width:5px;height:3.8px;background:#8e9cf0;border:0.6px solid #d8dcf4;border-radius:1.9px"></div><div class="a" style="left:417.70000000000005px;top:427.6px;width:4.4px;height:4px;background:#c8c8c8;border:0.5px solid #333"></div><div class="a" style="left:462.1px;top:349.6px;width:11.6px;height:6.4px;background:rgba(35,95,72,0.55)"></div><div class="a" style="left:462.1px;top:426.6px;width:11.6px;height:5.6px;background:rgba(35,95,72,0.55)"></div><div class="a" style="left:452px;top:356px;width:17.2px;height:70.5px;background:#101010"></div><div class="a" style="left:452.8px;top:356.6px;width:15.6px;height:9.6px;background:#d8d8d8;border:0.5px solid #888"></div><div class="t" style="left:452px;width:17.2px;text-align:center;top:357.2px;font-size:3.3px;line-height:4px;color:#2a5a40">PC-PDU<br><span style="color:#333">A1</span></div><div class="a" style="left:452.6px;top:366.79999999999995px;width:16.0px;height:9.2px;background:#183026"></div><div class="t" style="left:360.6px;width:200px;text-align:center;top:370px;font-size:3.4px;color:#b4c0b8;">Rack 06</div><div class="a" style="left:445.4px;top:367.0px;width:4.8px;height:8.8px;background:#5668d8;border-radius:0.6px"></div><div class="a" style="left:446.4px;top:369.59999999999997px;width:2.8px;height:2.6px;background:#8ea0f0;border-radius:1px"></div><div class="a" style="left:471.2px;top:369.0px;width:5px;height:3.8px;background:#8e9cf0;border:0.6px solid #d8dcf4;border-radius:1.9px"></div><div class="a" style="left:452.6px;top:376.79999999999995px;width:16.0px;height:9.2px;background:#183026"></div><div class="t" style="left:360.6px;width:200px;text-align:center;top:380px;font-size:3.4px;color:#b4c0b8;">Rack 05</div><div class="a" style="left:445.4px;top:377.0px;width:4.8px;height:8.8px;background:#5668d8;border-radius:0.6px"></div><div class="a" style="left:446.4px;top:379.59999999999997px;width:2.8px;height:2.6px;background:#8ea0f0;border-radius:1px"></div><div class="a" style="left:471.2px;top:379.0px;width:5px;height:3.8px;background:#8e9cf0;border:0.6px solid #d8dcf4;border-radius:1.9px"></div><div class="a" style="left:452.6px;top:386.79999999999995px;width:16.0px;height:9.2px;background:#183026"></div><div class="t" style="left:360.6px;width:200px;text-align:center;top:390px;font-size:3.4px;color:#b4c0b8;">Rack 4</div><div class="a" style="left:445.4px;top:387.0px;width:4.8px;height:8.8px;background:#5668d8;border-radius:0.6px"></div><div class="a" style="left:446.4px;top:389.59999999999997px;width:2.8px;height:2.6px;background:#8ea0f0;border-radius:1px"></div><div class="a" style="left:471.2px;top:389.0px;width:5px;height:3.8px;background:#8e9cf0;border:0.6px solid #d8dcf4;border-radius:1.9px"></div><div class="a" style="left:452.6px;top:396.79999999999995px;width:16.0px;height:9.2px;background:#183026"></div><div class="t" style="left:360.6px;width:200px;text-align:center;top:400px;font-size:3.4px;color:#b4c0b8;">Rack 03</div><div class="a" style="left:445.4px;top:397.0px;width:4.8px;height:8.8px;background:#5668d8;border-radius:0.6px"></div><div class="a" style="left:446.4px;top:399.59999999999997px;width:2.8px;height:2.6px;background:#8ea0f0;border-radius:1px"></div><div class="a" style="left:452.6px;top:406.79999999999995px;width:16.0px;height:9.2px;background:#183026"></div><div class="t" style="left:360.6px;width:200px;text-align:center;top:410px;font-size:3.4px;color:#b4c0b8;">Rack 02</div><div class="a" style="left:445.4px;top:407.0px;width:4.8px;height:8.8px;background:#5668d8;border-radius:0.6px"></div><div class="a" style="left:446.4px;top:409.59999999999997px;width:2.8px;height:2.6px;background:#8ea0f0;border-radius:1px"></div><div class="a" style="left:471.2px;top:409.0px;width:5px;height:3.8px;background:#8e9cf0;border:0.6px solid #d8dcf4;border-radius:1.9px"></div><div class="a" style="left:452.6px;top:416.79999999999995px;width:16.0px;height:9.2px;background:#183026"></div><div class="t" style="left:360.6px;width:200px;text-align:center;top:420px;font-size:3.4px;color:#b4c0b8;">Rack 01</div><div class="a" style="left:445.4px;top:417.0px;width:4.8px;height:8.8px;background:#5668d8;border-radius:0.6px"></div><div class="a" style="left:446.4px;top:419.59999999999997px;width:2.8px;height:2.6px;background:#8ea0f0;border-radius:1px"></div><div class="a" style="left:458.1px;top:351.1px;width:5px;height:3.8px;background:#8e9cf0;border:0.6px solid #d8dcf4;border-radius:1.9px"></div><div class="a" style="left:458.1px;top:427.6px;width:5px;height:3.8px;background:#8e9cf0;border:0.6px solid #d8dcf4;border-radius:1.9px"></div><div class="a" style="left:453.5px;top:436.7px;width:15px;height:10px;background:#d4d4d4;border:1px solid #1a1a1a"></div><div class="t" style="left:453.5px;width:15px;text-align:center;top:437.6px;font-size:3.2px;line-height:4px;color:#333">PC-PDU<br>B1</div><div class="a" style="left:469.2px;top:394.6px;width:9.6px;height:10px;background:#5e4650"></div><div class="a" style="left:469.2px;top:414.6px;width:9.6px;height:11.6px;background:#5e4650"></div><div class="a" style="left:471.3px;top:397.6px;width:5px;height:3.8px;background:#b8a838;border:0.6px solid #d8d090;border-radius:1.9px"></div><div class="a" style="left:471.3px;top:417.6px;width:5px;height:3.8px;background:#b8a838;border:0.6px solid #d8d090;border-radius:1.9px"></div><div class="a" style="left:465.6px;top:390px;width:3.2px;height:3.4px;background:#000"></div><div class="a" style="left:384px;top:391px;width:3.6px;height:3px;background:#000"></div><div class="a" style="left:279.6px;top:484.5px;width:8.6px;height:9px;background:#bdbdbd;border:1px solid #2a2a2a"></div><div class="a" style="left:380.7px;top:484.5px;width:8.6px;height:9px;background:#bdbdbd;border:1px solid #2a2a2a"></div><div class="a" style="left:482.6px;top:484.5px;width:8.6px;height:9px;background:#bdbdbd;border:1px solid #2a2a2a"></div><div class="a" style="left:268px;top:498px;width:19.5px;height:5px;background:rgba(35,95,72,0.55)"></div><div class="a" style="left:271.0px;top:498.6px;width:5px;height:3.8px;background:#8e9cf0;border:0.6px solid #d8dcf4;border-radius:1.9px"></div><div class="a" style="left:369px;top:498px;width:14.6px;height:5px;background:rgba(35,95,72,0.55)"></div><div class="a" style="left:372.0px;top:498.6px;width:5px;height:3.8px;background:#8e9cf0;border:0.6px solid #d8dcf4;border-radius:1.9px"></div><div class="a" style="left:464px;top:498px;width:16.5px;height:5px;background:rgba(35,95,72,0.55)"></div><div class="a" style="left:467.0px;top:498.6px;width:5px;height:3.8px;background:#8e9cf0;border:0.6px solid #d8dcf4;border-radius:1.9px"></div><div class="a" style="left:512.6px;top:355.4px;width:4.6px;height:12px;background:#5a5a5a;border:0.8px solid #111"></div><div class="a" style="left:513.4px;top:352.6px;width:3.6px;height:3px;background:#6f78e0;border-radius:1.4px"></div><div class="t" style="left:554px;width:200px;text-align:center;top:320px;font-size:4.2px;color:#fff;font-weight:bold;">Points</div><div class="t" style="left:554px;width:200px;text-align:center;top:326px;font-size:5.6px;color:#e8e8e8;">Temperature</div><div class="a" style="left:640.0px;top:332.6px;width:16.2px;height:19.399999999999977px;background:#4a1a2c"></div><div class="a" style="left:640.0px;top:360px;width:16.2px;height:37.40000000000001px;background:#0c3a26"></div><div class="a" style="left:646.0px;top:332.6px;width:4.3px;height:64.19999999999999px;background:linear-gradient(180deg,#7a5a22 0%,#b89a22 14%,#dcd83a 30%,#a8d86a 42%,#7ac8a8 55%,#76b8dc 70%,#6a88e8 85%,#5a3cc0 100%);border-radius:2px"></div><div class="t" style="left:652.0px;top:334px;font-size:5.2px;color:#e8e8e8;">82.0 ° F</div><div class="a" style="left:651.0px;top:348.40000000000003px;width:2.2px;height:0.8px;background:#e8e8e8"></div><div class="t" style="left:653.8000000000001px;top:347px;font-size:5.2px;color:#e8e8e8;">79.0 ° F</div><div class="a" style="left:651.0px;top:363.8px;width:2.2px;height:0.8px;background:#e8e8e8"></div><div class="t" style="left:653.8000000000001px;top:362px;font-size:5.2px;color:#e8e8e8;">76.0 ° F</div><div class="a" style="left:651.0px;top:379.40000000000003px;width:2.2px;height:0.8px;background:#e8e8e8"></div><div class="t" style="left:653.8000000000001px;top:378px;font-size:5.2px;color:#e8e8e8;">73.0 ° F</div><div class="t" style="left:652.0px;top:391px;font-size:5.2px;color:#e8e8e8;">70.0 ° F</div><div class="t" style="left:631px;width:200px;text-align:center;top:320px;font-size:4.2px;color:#fff;font-weight:bold;">Radios</div><div class="t" style="left:631px;width:200px;text-align:center;top:326px;font-size:5.6px;color:#e8e8e8;">Temperature</div><div class="a" style="left:717.6px;top:332.6px;width:16.2px;height:19.399999999999977px;background:#4a1a2c"></div><div class="a" style="left:717.6px;top:360px;width:16.2px;height:37.40000000000001px;background:#0c3a26"></div><div class="a" style="left:723.6px;top:332.6px;width:4.3px;height:64.19999999999999px;background:linear-gradient(180deg,#7a5a22 0%,#b89a22 14%,#dcd83a 30%,#a8d86a 42%,#7ac8a8 55%,#76b8dc 70%,#6a88e8 85%,#5a3cc0 100%);border-radius:2px"></div><div class="t" style="left:729.6px;top:334px;font-size:5.2px;color:#e8e8e8;">82.0 ° F</div><div class="a" style="left:728.6px;top:348.40000000000003px;width:2.2px;height:0.8px;background:#e8e8e8"></div><div class="t" style="left:731.4000000000001px;top:347px;font-size:5.2px;color:#e8e8e8;">79.0 ° F</div><div class="a" style="left:728.6px;top:363.8px;width:2.2px;height:0.8px;background:#e8e8e8"></div><div class="t" style="left:731.4000000000001px;top:362px;font-size:5.2px;color:#e8e8e8;">76.0 ° F</div><div class="a" style="left:728.6px;top:379.40000000000003px;width:2.2px;height:0.8px;background:#e8e8e8"></div><div class="t" style="left:731.4000000000001px;top:378px;font-size:5.2px;color:#e8e8e8;">73.0 ° F</div><div class="t" style="left:729.6px;top:391px;font-size:5.2px;color:#e8e8e8;">70.0 ° F</div><div class="t" style="left:554px;width:200px;text-align:center;top:408px;font-size:4.2px;color:#fff;font-weight:bold;">Units</div><div class="t" style="left:554px;width:200px;text-align:center;top:414px;font-size:5.6px;color:#e8e8e8;">Unit Capacity</div><div class="a" style="left:640.0px;top:424.4px;width:16.2px;height:23.600000000000023px;background:#4a1a2c"></div><div class="a" style="left:640.0px;top:448px;width:16.2px;height:39.99999999999998px;background:#0c3a26"></div><div class="a" style="left:646.0px;top:424.4px;width:4.3px;height:63.0px;background:linear-gradient(180deg,#7a5a22 0%,#b89a22 14%,#dcd83a 30%,#a8d86a 42%,#7ac8a8 55%,#76b8dc 70%,#6a88e8 85%,#5a3cc0 100%);border-radius:2px"></div><div class="t" style="left:652.0px;top:424px;font-size:5.2px;color:#e8e8e8;">4.6 kW</div><div class="a" style="left:651.0px;top:439.1px;width:2.2px;height:0.8px;background:#e8e8e8"></div><div class="t" style="left:653.8000000000001px;top:437px;font-size:5.2px;color:#e8e8e8;">3.5 kW</div><div class="a" style="left:651.0px;top:454.6px;width:2.2px;height:0.8px;background:#e8e8e8"></div><div class="t" style="left:653.8000000000001px;top:453px;font-size:5.2px;color:#e8e8e8;">2.3 kW</div><div class="a" style="left:651.0px;top:470.1px;width:2.2px;height:0.8px;background:#e8e8e8"></div><div class="t" style="left:653.8000000000001px;top:468px;font-size:5.2px;color:#e8e8e8;">1.2 kW</div><div class="t" style="left:652.0px;top:482px;font-size:5.2px;color:#e8e8e8;">0.0 kW</div><div class="t" style="left:631px;width:200px;text-align:center;top:408px;font-size:4.2px;color:#fff;font-weight:bold;">Gateways</div><div class="t" style="left:631px;width:200px;text-align:center;top:414px;font-size:5.6px;color:#e8e8e8;">Radios Not</div><div class="t" style="left:631px;width:200px;text-align:center;top:420px;font-size:5.6px;color:#e8e8e8;">Communicating</div><div class="a" style="left:717.6px;top:426.6px;width:16.2px;height:23.399999999999977px;background:#4a1a2c"></div><div class="a" style="left:717.6px;top:455.7px;width:16.2px;height:34.500000000000036px;background:#0c3a26"></div><div class="a" style="left:723.6px;top:426.6px;width:4.3px;height:63.0px;background:linear-gradient(180deg,#7a5a22 0%,#b89a22 14%,#dcd83a 30%,#a8d86a 42%,#7ac8a8 55%,#76b8dc 70%,#6a88e8 85%,#5a3cc0 100%);border-radius:2px"></div><div class="t" style="left:729.6px;top:427px;font-size:5.2px;color:#e8e8e8;">100</div><div class="a" style="left:728.6px;top:442.70000000000005px;width:2.2px;height:0.8px;background:#e8e8e8"></div><div class="t" style="left:731.4000000000001px;top:441px;font-size:5.2px;color:#e8e8e8;">75</div><div class="a" style="left:728.6px;top:458.5px;width:2.2px;height:0.8px;background:#e8e8e8"></div><div class="t" style="left:731.4000000000001px;top:457px;font-size:5.2px;color:#e8e8e8;">50</div><div class="a" style="left:728.6px;top:474.0px;width:2.2px;height:0.8px;background:#e8e8e8"></div><div class="t" style="left:731.4000000000001px;top:472px;font-size:5.2px;color:#e8e8e8;">25</div><div class="t" style="left:729.6px;top:485px;font-size:5.2px;color:#e8e8e8;">0</div><svg style="left:789.8px;top:461.2px" width="10.2" height="22.2" viewBox="0 0 10.2 22.2"><path d="M1.4 0 L10.2 0 L10.2 22.2 L4.6 22.2 L0 17.6 L0 1.4 Q0 0 1.4 0 Z" fill="#5e5e5e"/><rect x="0.9" y="1" width="9.3" height="9.6" fill="#1d2b55"/><ellipse cx="5.4" cy="5.8" rx="2.8" ry="2.3" fill="none" stroke="#c8cce0" stroke-width="0.9"/><rect x="3.9" y="5.2" width="1" height="1" fill="#c8cce0"/><rect x="5.9" y="5.2" width="1" height="1" fill="#c8cce0"/></svg></body></html>
